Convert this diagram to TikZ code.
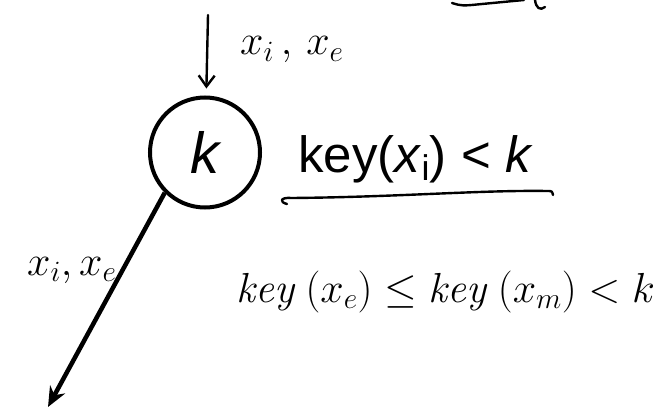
\documentclass[tikz,border=0pt]{standalone}
\usepackage{fix-cm}
\usepackage{fontspec}
\newfontfamily\helv{Liberation Sans}
\usetikzlibrary{arrows.meta}
\tikzset{
  keynode/.style={draw,circle,line width=4pt,minimum size=110pt,inner sep=0pt,
    font=\helv\itshape\fontsize{58}{60}\selectfont},
  ink/.style={line width=2.4pt,line cap=round,line join=round},
  hand/.style={inner sep=0pt,font=\fontsize{42}{46}\selectfont}
}
\begin{document}
\begin{tikzpicture}[x=1pt,y=-1pt]
  \useasboundingbox (0,0) rectangle (664,409);

  \node[keynode] (k) at (205,152.5) {k};
  \node[anchor=base west,inner sep=0pt,font=\helv\fontsize{51}{56}\selectfont] (cond) at (298,172)
    {key(\textit{x}\textsubscript{i}) < \textit{k}};

  \coordinate (in) at (208,15);
  \coordinate (out) at (48,407);
  \draw[ink,-{Straight Barb[length=11pt,width=16pt]},shorten >=7pt] (in) -- (k);
  \draw[line width=4.5pt,-{Stealth[length=20pt,width=17pt]}] (k.225) -- (out);

  \node[hand,anchor=base west] (inlab) at (240,55) {$x_i\,,\,x_e$};
  \node[hand,anchor=base west] (outlab) at (27,275) {$x_i,x_e$};
  \node[hand,anchor=base west] (range) at (236,302)
    {$\mathit{key}\;(x_e)\le\mathit{key}\;(x_m)<k$};

  \draw[ink] (287,204) .. controls (279,202) and (280,197) .. (292,198)
    .. controls (400,197) and (480,190) .. (547,191) .. controls (552,191) .. (553,195);
  \draw[ink] (452,3) .. controls (462,6) .. (482,4) -- (524,0);
  \draw[ink] (535,0) .. controls (536,8) and (540,11) .. (545,7);
\end{tikzpicture}
\end{document}
